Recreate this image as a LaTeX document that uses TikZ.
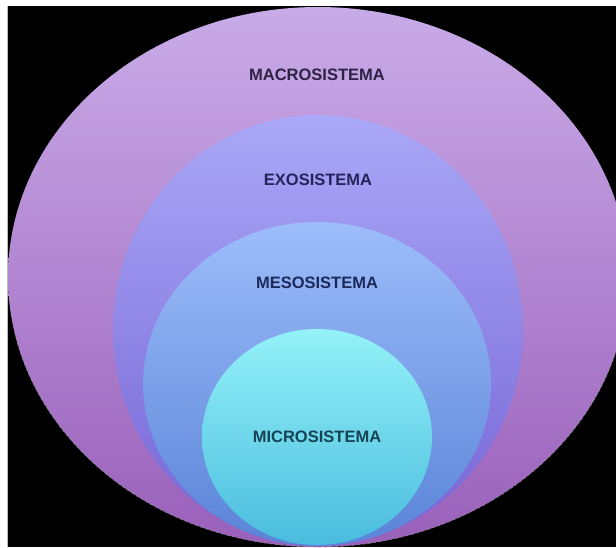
\documentclass[tikz,border=0pt]{standalone}
\usepackage{fontspec}
\setmainfont{Liberation Sans}
\definecolor{macroT}{HTML}{C9ABE8}
\definecolor{macroM}{HTML}{B997DC}
\definecolor{macroB}{HTML}{9A60BA}
\definecolor{exoT}{HTML}{AAA8F8}
\definecolor{exoM}{HTML}{948EEC}
\definecolor{exoB}{HTML}{7664D4}
\definecolor{mesoT}{HTML}{9DBDFA}
\definecolor{mesoM}{HTML}{80A4EE}
\definecolor{mesoB}{HTML}{5A84D8}
\definecolor{microT}{HTML}{94F2F8}
\definecolor{microM}{HTML}{72DCF0}
\definecolor{microB}{HTML}{4ABCDE}
\definecolor{macroTxt}{HTML}{2E2244}
\definecolor{exoTxt}{HTML}{24245A}
\definecolor{mesoTxt}{HTML}{1C2A5A}
\definecolor{microTxt}{HTML}{154455}
\definecolor{edgeArt}{HTML}{7E9A7A}
\begin{document}
\begin{tikzpicture}[x=1pt,y=-1pt,
  lbl/.style={font=\fontsize{16.5}{18}\selectfont\bfseries, inner sep=0pt, anchor=center}]
\useasboundingbox (0,0) rectangle (616,547);
\fill[white] (0,0) rectangle (616,547);
\fill[black] (8,6) rectangle (616,547);
\draw[gray!55, line width=1pt] (7.5,6) -- (7.5,547);
\begin{scope}
  \clip (8,6) rectangle (616,547);
  \shade[top color=macroT, middle color=macroM, bottom color=macroB] (318,277) ellipse [x radius=310, y radius=270];
  \draw[edgeArt, line width=0.6pt, dash pattern=on 2.5pt off 3pt, opacity=0.8]
    (318,277) ++(12:310 and 270) arc[start angle=12, end angle=168, x radius=310, y radius=270];
  \shade[top color=exoT, middle color=exoM, bottom color=exoB] (318,330) ellipse [x radius=205, y radius=215];
  \shade[top color=mesoT, middle color=mesoM, bottom color=mesoB] (317,384) ellipse [x radius=174, y radius=162];
  \shade[top color=microT, middle color=microM, bottom color=microB] (317,437) ellipse [x radius=115, y radius=108];
\end{scope}
\node[lbl, text=macroTxt] (macro) at (317,75) {MACROSISTEMA};
\node[lbl, text=exoTxt] (exo) at (318,180) {EXOSISTEMA};
\node[lbl, text=mesoTxt] (meso) at (317,283) {MESOSISTEMA};
\node[lbl, text=microTxt] (micro) at (317,437) {MICROSISTEMA};
\end{tikzpicture}
\end{document}
